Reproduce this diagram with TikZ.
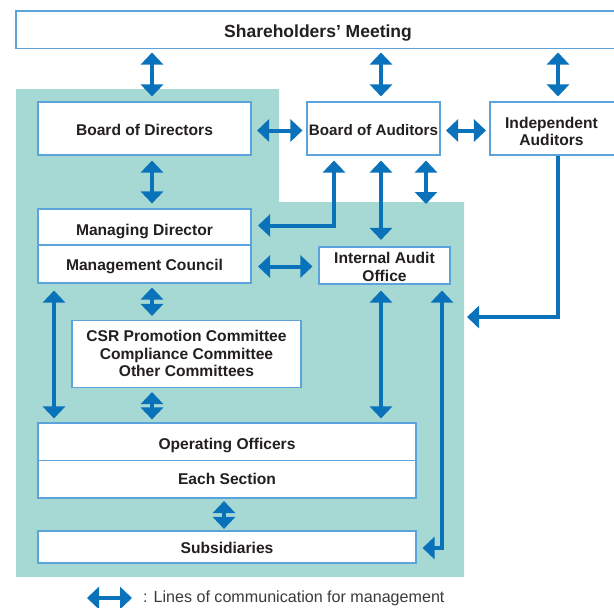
\documentclass[tikz,border=0pt]{standalone}
\usepackage{fontspec}
\setmainfont{Liberation Sans}
\usetikzlibrary{arrows.meta,calc}
\definecolor{teal}{HTML}{A6D8D4}
\definecolor{boxblue}{HTML}{5BA3DB}
\definecolor{arrowblue}{HTML}{0A72BA}
\definecolor{txt}{HTML}{231F20}
\definecolor{legtxt}{HTML}{3A3A3A}
\tikzset{
  box/.style={draw=boxblue, line width=1.1pt, fill=white, rectangle, inner sep=0pt,
    align=center, text=txt, text depth=0pt, font=\bfseries\fontsize{15.6}{17.5}\selectfont},
  tipshape/.tip={Triangle[width=22pt,length=12pt]},
  arr/.style={draw=arrowblue, line width=4pt, {tipshape}-{tipshape}},
  arrone/.style={draw=arrowblue, line width=4pt, -{tipshape}},
}
\begin{document}
\begin{tikzpicture}[x=1pt,y=-1pt]
\useasboundingbox (0,0) rectangle (614,608);
% teal background
\fill[teal] (16,89) -- (279,89) -- (279,202) -- (464,202) -- (464,577) -- (16,577) -- cycle;
% boxes
\node[box, minimum width=604pt, minimum height=37.5pt, text height=15.1pt, font=\bfseries\fontsize{17.5}{20}\selectfont] (sh) at (318,29.75) {Shareholders’ Meeting};
\node[box, minimum width=213pt, minimum height=53pt, text height=14.2pt] (bod) at (144.5,128.5) {Board of Directors};
\node[box, minimum width=133pt, minimum height=53pt, text height=14.2pt, font=\bfseries\fontsize{15.2}{17.5}\selectfont] (boa) at (373.5,128.5) {Board of Auditors};
\node[box, minimum width=130pt, minimum height=53pt] (ind) at (555,128.5) {};
\node[inner sep=0pt, align=center, text=txt, text depth=0pt, text height=34.4pt, font=\bfseries\fontsize{15.6}{17.5}\selectfont] (indt) at (551.5,128.5) {Independent\\Auditors};
\node[box, minimum width=213pt, minimum height=36pt, text height=16pt] (md) at (144.5,227) {Managing Director};
\node[box, minimum width=213pt, minimum height=38pt, text height=12pt] (mc) at (144.5,264) {Management Council};
\node[box, minimum width=131pt, minimum height=37pt, text height=31pt] (iao) at (384.5,265.5) {Internal Audit\\Office};
\node[box, minimum width=229pt, minimum height=67pt, text height=45.4pt] (csr) at (186.5,354) {CSR Promotion Committee\\Compliance Committee\\Other Committees};
\node[box, minimum width=378pt, minimum height=37.5pt, text height=15.1pt] (oo) at (227,441.75) {Operating Officers};
\node[box, minimum width=378pt, minimum height=37.5pt, text height=9.5pt] (es) at (227,479.25) {Each Section};
\node[box, minimum width=378pt, minimum height=32pt, text height=12.6pt] (sub) at (227,547) {Subsidiaries};
% x positions
\coordinate (x54) at (54,0);
\coordinate (x152) at (152,0);
\coordinate (x224) at (224,0);
\coordinate (x334) at (334,0);
\coordinate (x381) at (381,0);
\coordinate (x426) at (426,0);
\coordinate (x442) at (442,0);
\coordinate (x558) at (558,0);
\coordinate (y130) at (0,130.5);
\coordinate (y267) at (0,266.5);
\coordinate (t9) at (426,204);
\coordinate (t11) at (467,317);
% arrows from shareholders
\draw[arr] ($(sh.south -| x152)+(0,3.5)$) -- ($(bod.north -| x152)+(0,-5)$);
\draw[arr] ($(sh.south -| x381)+(0,3.5)$) -- ($(boa.north -| x381)+(0,-5)$);
\draw[arr] ($(sh.south -| x558)+(0,3.5)$) -- ($(ind.north -| x558)+(0,-5)$);
% horizontal
\draw[arr] ($(bod.east |- y130)+(5.5,0)$) -- ($(boa.west |- y130)+(-4,0)$);
\draw[arr] ($(boa.east |- y130)+(5.5,0)$) -- ($(ind.west |- y130)+(-3.5,0)$);
\draw[arr] ($(bod.south -| x152)+(0,5)$) -- ($(md.north -| x152)+(0,-5)$);
\draw[arr] ($(boa.south -| x334)+(0,5)$) |- ($(md.east)+(6.5,-1.5)$);
\draw[arr] ($(boa.south -| x381)+(0,5)$) -- ($(iao.north -| x381)+(0,-6.5)$);
\draw[arr] ($(boa.south -| x426)+(0,5)$) -- (t9);
\draw[arr] ($(mc.east |- y267)+(6.5,0)$) -- ($(iao.west |- y267)+(-6,0)$);
\draw[arrone] (ind.south -| x558) |- (t11);
\draw[arr] ($(mc.south -| x54)+(0,7)$) -- ($(oo.north -| x54)+(0,-4)$);
\draw[arr] ($(mc.south -| x152)+(0,4)$) -- ($(csr.north -| x152)+(0,-4)$);
\draw[arr] ($(csr.south -| x152)+(0,4)$) -- ($(oo.north -| x152)+(0,-3)$);
\draw[arr] ($(iao.south -| x381)+(0,6)$) -- ($(oo.north -| x381)+(0,-4)$);
\draw[arr] ($(iao.south -| x442)+(0,6)$) |- ($(sub.east)+(6,1)$);
\draw[arr] ($(es.south -| x224)+(0,2.5)$) -- ($(sub.north -| x224)+(0,-1.5)$);
% legend
\coordinate (l1) at (87,598);
\coordinate (l2) at (132,598);
\draw[arr] (l1) -- (l2);
\node[anchor=west, inner sep=0pt, text=legtxt, font=\fontsize{16.1}{18}\selectfont] (leg) at (143,598) {: Lines of communication for management};
\end{tikzpicture}
\end{document}
